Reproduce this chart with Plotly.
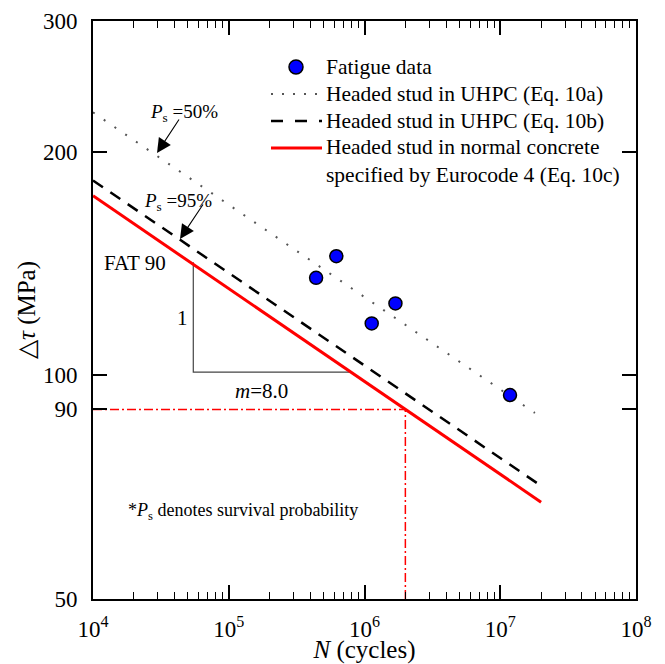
import plotly.graph_objects as go

# ---------------- data ----------------
fatigue_N = [4.4e5, 6.2e5, 1.13e6, 1.69e6, 1.18e7]
fatigue_tau = [135.3, 144.7, 117.5, 125.0, 94.1]

eq10a_N = [1e4, 1.8e7]
eq10a_tau = [226.0, 89.0]
eq10b_N = [1e4, 2e7]
eq10b_tau = [183.0, 71.0]
eq10c_N = [1e4, 2e7]
eq10c_tau = [174.5, 67.5]

fat90_N = [1e4, 2e6, 2e6]
fat90_tau = [90, 90, 50]

slope_N = [5.48e4, 5.48e4, 7.96e5]
slope_tau = [142, 101, 101]

x_tickvals = [1e4, 1e5, 1e6, 1e7, 1e8]
x_ticktext = ["10<sup>4</sup>", "10<sup>5</sup>", "10<sup>6</sup>", "10<sup>7</sup>", "10<sup>8</sup>"]
y_tickvals = [50, 90, 100, 200, 300]
y_ticktext = ["50", "90", "100", "200", "300"]

legend_labels = [
    "Fatigue data",
    "Headed stud in UHPC (Eq. 10a)",
    "Headed stud in UHPC (Eq. 10b)",
    "Headed stud in normal concrete<br>specified by Eurocode 4 (Eq. 10c)",
]

# ---------------- geometry ----------------
OFF = 8  # page body margin
W, H = 665 - OFF, 664 - OFF
L, R, T, B = 93, 636, 21, 599   # plot area in screen pixels
FONT = "Liberation Serif"


def px(x):
    return (x - L) / (R - L)


def py(y):
    return (B - y) / (B - T)


fig = go.Figure()

fig.add_trace(go.Scatter(x=fat90_N, y=fat90_tau, mode="lines",
                         line=dict(color="#FF0000", width=1.5, dash="9px,3px,2px,3px"),
                         showlegend=False, hoverinfo="skip"))
fig.add_trace(go.Scatter(x=slope_N, y=slope_tau, mode="lines",
                         line=dict(color="#444444", width=1.2),
                         showlegend=False, hoverinfo="skip"))
fig.add_trace(go.Scatter(x=eq10a_N, y=eq10a_tau, mode="lines",
                         line=dict(color="#555555", width=2, dash="2px,11px"),
                         showlegend=False))
fig.add_trace(go.Scatter(x=eq10b_N, y=eq10b_tau, mode="lines",
                         line=dict(color="black", width=2.5, dash="12px,9px"),
                         showlegend=False))
fig.add_trace(go.Scatter(x=eq10c_N, y=eq10c_tau, mode="lines",
                         line=dict(color="#FF0000", width=3),
                         showlegend=False))
fig.add_trace(go.Scatter(x=fatigue_N, y=fatigue_tau, mode="markers",
                         marker=dict(color="#0000FF", size=13, line=dict(color="black", width=1.5)),
                         showlegend=False))

shapes = []
annotations = []

# ---- manual legend ----
shapes.append(dict(type="circle", xref="paper", yref="paper",
                   x0=px(289), x1=px(303), y0=py(74), y1=py(60),
                   fillcolor="#0000FF", line=dict(color="black", width=1.5)))
shapes.append(dict(type="line", xref="paper", yref="paper",
                   x0=px(271), x1=px(322), y0=py(94), y1=py(94),
                   line=dict(color="#555555", width=2, dash="2px,9px")))
shapes.append(dict(type="line", xref="paper", yref="paper",
                   x0=px(271), x1=px(322), y0=py(121), y1=py(121),
                   line=dict(color="black", width=2.5, dash="12px,12px")))
shapes.append(dict(type="line", xref="paper", yref="paper",
                   x0=px(271), x1=px(322), y0=py(148), y1=py(148),
                   line=dict(color="#FF0000", width=3)))
for lab, yy in zip(legend_labels, [67, 94, 121, 161]):
    annotations.append(dict(text=lab, xref="paper", yref="paper", x=px(324), y=py(yy),
                            xanchor="left", yanchor="middle", showarrow=False, align="left",
                            font=dict(family=FONT, size=21.5, color="black")))


# ---- text annotations ----
def text(t, x, y, size, xanchor="center"):
    annotations.append(dict(text=t, xref="paper", yref="paper", x=px(x), y=py(y),
                            xanchor=xanchor, yanchor="middle", showarrow=False,
                            font=dict(family=FONT, size=size, color="black")))


def arrow(x0, y0, x1, y1):
    annotations.append(dict(text="", xref="paper", yref="paper", x=px(x1), y=py(y1),
                            ax=x0 - x1, ay=y0 - y1, showarrow=True,
                            arrowhead=2, arrowsize=2.6, arrowwidth=1.1, arrowcolor="black"))


text("<i>P</i><sub>s</sub> =50%", 184, 113, 19)
arrow(180, 118, 157, 153)
text("<i>P</i><sub>s</sub> =95%", 178, 202, 19)
arrow(204, 203, 180, 239)
text("FAT 90", 135, 263, 21)
text("1", 182, 318, 21)
text("<i>m</i>=8.0", 261, 391, 21)
text("*<i>P</i><sub>s</sub> denotes survival probability", 126, 511, 18, xanchor="left")

fig.update_layout(
    width=W, height=H,
    margin=dict(l=L - OFF, r=W - (R - OFF), t=T - OFF, b=H - (B - OFF), autoexpand=False),
    paper_bgcolor="white", plot_bgcolor="white",
    font=dict(family=FONT, size=23, color="black"),
    showlegend=False,
    shapes=shapes, annotations=annotations,
)

fig.update_xaxes(
    type="log", range=[4, 8],
    tickvals=x_tickvals, ticktext=x_ticktext,
    ticks="inside", ticklen=14, tickwidth=1.5, tickcolor="black",
    minor=dict(ticks="inside", ticklen=7, tickwidth=1.2, tickcolor="black", dtick="D1", showgrid=False),
    showline=True, linewidth=2, linecolor="black", mirror="ticks",
    showgrid=False, zeroline=False,
    tickfont=dict(family=FONT, size=23),
    ticklabelstandoff=8,
    title=dict(text="<i>N</i> (cycles)", font=dict(family=FONT, size=25), standoff=6),
)
fig.update_yaxes(
    type="log", range=[1.69897, 2.4771213],
    tickvals=y_tickvals, ticktext=y_ticktext,
    ticks="inside", ticklen=14, tickwidth=1.5, tickcolor="black",
    showline=True, linewidth=2, linecolor="black", mirror="ticks",
    showgrid=False, zeroline=False,
    tickfont=dict(family=FONT, size=23),
    ticklabelstandoff=9,
    title=dict(text="△<i>τ</i> (MPa)", font=dict(family=FONT, size=25), standoff=0),
)

fig.write_html("out.html")
